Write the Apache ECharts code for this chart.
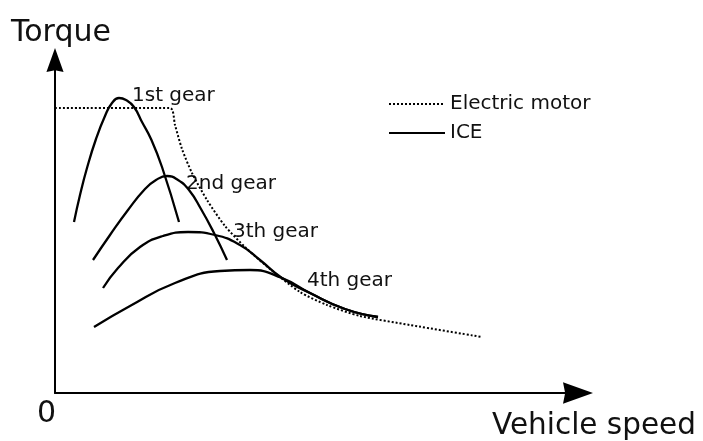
<!DOCTYPE html>
<html>
<head>
<meta charset="utf-8">
<script src="https://cdn.jsdelivr.net/npm/echarts@6/dist/echarts.min.js"></script>
<style>
  html, body { margin: 0; padding: 0; background: #fff; }
  #main { width: 703px; height: 441px; }
</style>
</head>
<body>
<div id="main"></div>
<script>
// curves, [speed, torque] in arbitrary units
const electricMotor = [[0, 285], [115, 285], [120, 268], [127, 244], [137, 220], [152, 193], [170, 167],
  [190, 146], [215, 124], [245, 101], [272, 88], [305, 77], [355, 68], [427, 56]];
const gear1 = [[19, 171], [25, 198], [32, 225], [41, 254], [50, 277], [57, 290], [64, 295], [71, 293],
  [79, 286], [87, 271], [96, 254], [107, 226], [124, 171]];
const gear2 = [[38, 133], [55, 158], [73, 183], [90, 204], [101, 213], [112, 217], [123, 213], [134, 203],
  [146, 184], [159, 160], [172, 133]];
const gear3 = [[48, 105], [63, 125], [85, 146], [108, 157], [133, 161], [160, 158], [185, 148], [205, 133],
  [227, 115], [255, 100], [290, 84], [323, 76]];
const gear4 = [[39, 66], [75, 87], [120, 110], [165, 122], [195, 123], [227, 115], [255, 100], [290, 84], [323, 76]];
const gearCurves = [gear1, gear2, gear3, gear4];
const gearLabels = ['1st gear', '2nd gear', '3th gear', '4th gear'];
// left end of each gear label, in data units
const gearLabelPos = [[77, 300], [131, 212], [178, 164], [252, 115]];

const FONT = '"DejaVu Sans"';
const chart = echarts.init(document.getElementById('main'));

// arrow head pointing up, small notch at the base
const arrowPath = 'path://M5,0 L10,14 L5,13 L0,14 Z';

const series = [{
  name: 'Electric motor',
  type: 'line',
  data: electricMotor,
  smooth: 0.25,
  symbol: 'none',
  lineStyle: { color: '#000', width: 2, type: [2, 2] },
  z: 3
}];
gearCurves.forEach(d => {
  series.push({
    name: 'ICE',
    type: 'line',
    data: d,
    smooth: 0.5,
    symbol: 'none',
    lineStyle: { color: '#000', width: 2.3 },
    z: 2
  });
});

const option = {
  animation: false,
  backgroundColor: '#fff',
  grid: { left: 55, right: 125, top: 60, bottom: 48 },
  legend: {
    data: ['Electric motor', 'ICE'],
    orient: 'vertical',
    left: 388,
    top: 94,
    padding: 0,
    itemGap: 9,
    itemWidth: 56,
    itemHeight: 14,
    selectedMode: false,
    itemStyle: { opacity: 0 },
    textStyle: { fontFamily: 'DejaVu Sans', fontSize: 20, color: '#111' }
  },
  xAxis: {
    type: 'value',
    min: 0,
    max: 523,
    axisLine: { show: true, symbol: ['none', arrowPath], symbolSize: [22, 30], lineStyle: { color: '#000', width: 2 } },
    axisTick: { show: false },
    axisLabel: { show: false },
    splitLine: { show: false }
  },
  yAxis: {
    type: 'value',
    min: 0,
    max: 333,
    axisLine: { show: true, symbol: ['none', arrowPath], symbolSize: [18, 24], lineStyle: { color: '#000', width: 2 } },
    axisTick: { show: false },
    axisLabel: { show: false },
    splitLine: { show: false }
  },
  series: series
};
chart.setOption(option);

// axis names and gear names as text
const texts = [
  { type: 'text', left: 11, top: 18, style: { text: 'Torque', font: '30px ' + FONT, fill: '#111' } },
  { type: 'text', left: 37, top: 399, style: { text: '0', font: '30px ' + FONT, fill: '#111' } },
  { type: 'text', left: 492, top: 411, style: { text: 'Vehicle speed', font: '29.5px ' + FONT, fill: '#111' } }
];
gearLabelPos.forEach((p, i) => {
  const px = chart.convertToPixel({ gridIndex: 0 }, p);
  texts.push({
    type: 'text',
    x: px[0],
    y: px[1] + 3,
    style: { text: gearLabels[i], font: '20px ' + FONT, fill: '#111', verticalAlign: 'middle' }
  });
});
chart.setOption({ graphic: texts });
</script>
</body>
</html>
